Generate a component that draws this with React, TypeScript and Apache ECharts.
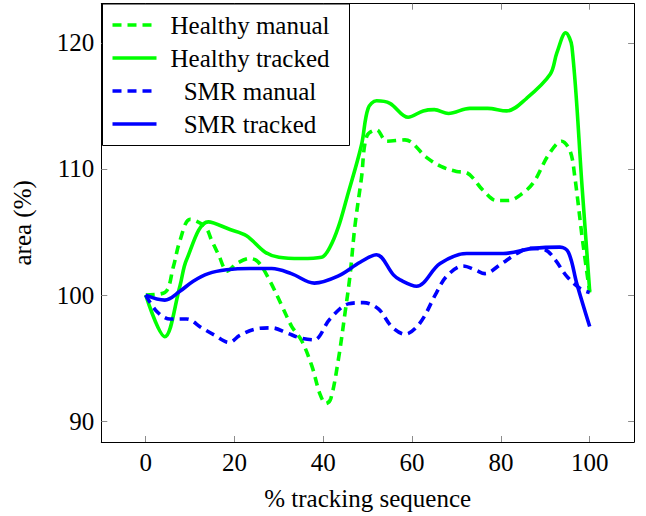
import React, { useEffect, useRef } from "react";
import * as echarts from "echarts";

const xTicks = [0, 20, 40, 60, 80, 100];
const yTicks = [90, 100, 110, 120];

const seriesNames = ["Healthy manual", "Healthy tracked", "SMR manual", "SMR tracked"];

const healthyManualX = [0, 4.3, 6.2, 7.7, 10, 13.4, 14.9, 16.4, 18.4, 20.5, 23.5, 25.4, 28, 31, 32.9, 35.1, 37.4, 39.3, 40.6, 41.7, 43.4, 44.9, 46, 47.1, 48.6, 49.8, 52, 54.3, 58.4, 63.3, 66.5, 70, 72.3, 76, 79, 81.7, 85, 87.5, 90.7, 93.7, 95.6, 96.6, 98.4, 100];
const healthyManualY = [100, 100.2, 102.2, 104.3, 106.0, 105.4, 104.3, 103.2, 101.9, 102.5, 102.9, 102.6, 101.1, 98.9, 97.5, 96.4, 94.4, 92.1, 91.4, 91.8, 94.9, 98.6, 101.5, 105.4, 109.3, 112.6, 113.1, 112.2, 112.3, 110.9, 110.2, 109.8, 109.7, 108.3, 107.5, 107.5, 108.1, 109.0, 111.1, 112.2, 111.4, 109.5, 104.3, 100.2];

const healthyTrackedX = [0, 4.3, 7.7, 9.2, 14.1, 19, 22.7, 26.9, 30, 35, 39.6, 41.5, 43.4, 45.3, 48.6, 50.1, 52, 55, 59.1, 62.5, 65, 68.2, 73, 77, 81.3, 85.8, 91.1, 92.6, 94.6, 96, 98.3, 100];
const healthyTrackedY = [100, 96.7, 100.7, 102.8, 105.8, 105.2, 104.7, 103.4, 103.0, 102.9, 103.0, 103.8, 105.4, 107.7, 111.9, 114.8, 115.4, 115.2, 114.1, 114.6, 114.7, 114.4, 114.8, 114.8, 114.6, 115.6, 117.5, 119.2, 120.8, 119.7, 108.5, 100.3];

const smrManualX = [0, 2.5, 5.5, 9.2, 12.6, 15.6, 18.8, 21.2, 24.6, 28.4, 31.8, 34.8, 37.9, 41.5, 45.6, 49, 52.4, 55.4, 58.4, 61.8, 65.5, 67.8, 71.5, 74.2, 76.4, 79.8, 83.6, 86.6, 89.9, 92.2, 94.8, 97.9, 100];
const smrManualY = [100, 98.7, 98.1, 98.1, 97.4, 96.8, 96.25, 96.8, 97.3, 97.4, 97.0, 96.6, 96.45, 98.1, 99.3, 99.4, 98.9, 97.5, 96.9, 97.8, 100.2, 101.5, 102.3, 102.0, 101.7, 102.4, 103.3, 103.7, 103.6, 102.8, 101.5, 100.5, 100.2];

const smrTrackedX = [0, 4.3, 7.7, 10.7, 14.1, 18.2, 23.5, 28.4, 32.8, 38, 43.3, 48.3, 52, 55.8, 57.3, 61, 66.3, 72.3, 80.5, 87.3, 93.3, 95.2, 97.1, 100];
const smrTrackedY = [100, 99.6, 100.3, 101.1, 101.7, 102.0, 102.1, 102.1, 101.7, 100.95, 101.5, 102.6, 103.2, 101.6, 101.2, 100.7, 102.5, 103.3, 103.3, 103.7, 103.8, 103.4, 100.9, 97.5];

const seriesColors = ["#00ff00", "#00ff00", "#0000ff", "#0000ff"];
const seriesDashed = [true, false, true, false];

const FONT = "Liberation Serif";
const FS = 25;

function pairs(xs: number[], ys: number[]) {
  return xs.map((x, i) => [x, ys[i]]);
}

export default function App() {
  const ref = useRef<HTMLDivElement>(null);
  useEffect(() => {
    const chart = echarts.init(ref.current!, null, { renderer: "svg" });
    const datasets = [
      pairs(healthyManualX, healthyManualY),
      pairs(healthyTrackedX, healthyTrackedY),
      pairs(smrManualX, smrManualY),
      pairs(smrTrackedX, smrTrackedY),
    ];
    const dash = [9, 6];
    const lw = 3.6;
    const axisCommon = {
      axisLine: { show: true, onZero: false, lineStyle: { color: "#000", width: 1 } },
      splitLine: { show: false },
    };
    const legendRows = [25, 58, 91, 124];
    const legendGraphic: any[] = [
      {
        type: "rect",
        shape: { x: 102.5, y: 4, width: 247, height: 141.5 },
        style: { fill: "#fff", stroke: "#000", lineWidth: 1 },
        z: 100,
      },
    ];
    seriesNames.forEach((name, i) => {
      legendGraphic.push({
        type: "line",
        shape: { x1: 112.5, y1: legendRows[i], x2: 156.5, y2: legendRows[i] },
        style: {
          stroke: seriesColors[i],
          lineWidth: lw,
          lineDash: seriesDashed[i] ? dash : null,
        },
        z: 101,
      });
      legendGraphic.push({
        type: "text",
        x: 250,
        y: legendRows[i],
        style: {
          text: name,
          fill: "#000",
          fontFamily: FONT,
          fontSize: FS,
          align: "center",
          verticalAlign: "middle",
        },
        z: 101,
      });
    });

    chart.setOption({
      animation: false,
      backgroundColor: "#fff",
      grid: { left: 101.3, right: 11.9, top: 3.7, bottom: 68.7, containLabel: false },
      xAxis: [
        {
          type: "value",
          min: -10,
          max: 110,
          position: "bottom",
          ...axisCommon,
          axisTick: { show: true, inside: true, length: 6, customValues: xTicks, lineStyle: { color: "#8c8c8c" } },
          axisLabel: { customValues: xTicks, color: "#000", fontFamily: FONT, fontSize: FS, margin: 8 },
          name: "% tracking sequence",
          nameLocation: "middle",
          nameGap: 44,
          nameTextStyle: { color: "#000", fontFamily: FONT, fontSize: FS },
        },
        {
          type: "value",
          min: -10,
          max: 110,
          position: "top",
          ...axisCommon,
          axisTick: { show: true, inside: true, length: 6, customValues: xTicks, lineStyle: { color: "#8c8c8c" } },
          axisLabel: { show: false },
        },
      ],
      yAxis: [
        {
          type: "value",
          min: 88.35,
          max: 123.1,
          position: "left",
          ...axisCommon,
          axisTick: { show: true, inside: true, length: 6, customValues: yTicks, lineStyle: { color: "#8c8c8c" } },
          axisLabel: { customValues: yTicks, color: "#000", fontFamily: FONT, fontSize: FS, margin: 7 },
          name: "area (%)",
          nameLocation: "middle",
          nameGap: 66,
          nameTextStyle: { color: "#000", fontFamily: FONT, fontSize: FS },
        },
        {
          type: "value",
          min: 88.35,
          max: 123.1,
          position: "right",
          ...axisCommon,
          axisTick: { show: true, inside: true, length: 6, customValues: yTicks, lineStyle: { color: "#8c8c8c" } },
          axisLabel: { show: false },
        },
      ],
      series: seriesNames.map((name, i) => ({
        name,
        type: "line",
        xAxisIndex: 0,
        yAxisIndex: 0,
        data: datasets[i],
        smooth: 0.35,
        showSymbol: false,
        symbol: "none",
        lineStyle: {
          color: seriesColors[i],
          width: lw,
          type: seriesDashed[i] ? dash : "solid",
          cap: "butt",
        },
        itemStyle: { color: seriesColors[i] },
        z: 2 + i,
      })),
      graphic: legendGraphic,
    });
    return () => chart.dispose();
  }, []);
  return (
    <div
      ref={ref}
      style={{ position: "fixed", left: 0, top: 0, width: 646, height: 516, background: "#fff" }}
    />
  );
}
